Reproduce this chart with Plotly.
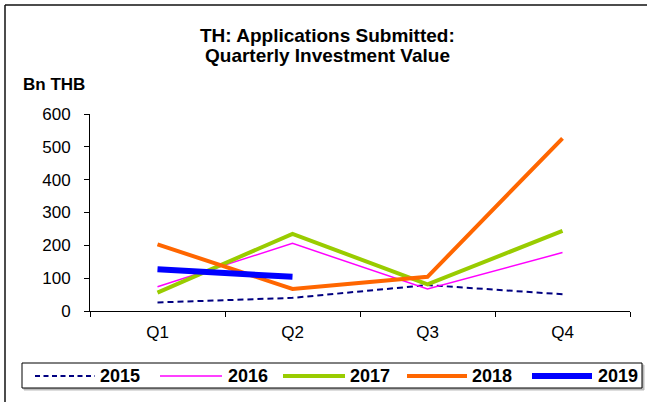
import plotly.graph_objects as go

quarters = ["Q1", "Q2", "Q3", "Q4"]
y2015 = [26, 40, 79, 51]
y2016 = [74, 206, 67, 178]
y2017 = [56, 235, 81, 244]
y2018 = [203, 67, 104, 526]
y2019 = [127, 104]
years = ["2015", "2016", "2017", "2018", "2019"]

styles = [
    dict(color="#000080", width=2, dash="6px,4px"),
    dict(color="#FF00FF", width=1.5),
    dict(color="#99CC00", width=4),
    dict(color="#FF6600", width=4),
    dict(color="#0000FF", width=6),
]
values = [y2015, y2016, y2017, y2018, y2019]

FONT = "Liberation Sans, Arial, sans-serif"
W, H = 647, 402
L, R, T, B = 90, 630, 114, 311

def px(x):
    return (x - L) / (R - L)

def py(y):
    return (B - y) / (B - T)

fig = go.Figure()
for name, vals, line in zip(years, values, styles):
    fig.add_trace(go.Scatter(x=quarters[:len(vals)], y=vals, name=name, mode="lines",
                             line=line, showlegend=False))

fig.update_layout(
    width=W, height=H,
    margin=dict(l=L, r=W - R, t=T, b=H - B, autoexpand=False),
    paper_bgcolor="white", plot_bgcolor="white",
    font=dict(family=FONT, size=17, color="black"),
    showlegend=False,
    xaxis=dict(type="category", range=[-0.5, 3.5], showline=True, linecolor="black", linewidth=1,
               ticks="outside", ticklen=5, tickcolor="black", tickson="boundaries",
               showgrid=False, zeroline=False, ticklabelstandoff=6,
               tickfont=dict(size=17, family=FONT), fixedrange=True),
    yaxis=dict(range=[0, 600], dtick=100, showline=True, linecolor="black", linewidth=1,
               ticks="outside", ticklen=5, tickcolor="black", showgrid=False, zeroline=False,
               ticklabelstandoff=10, tickfont=dict(size=17, family=FONT), fixedrange=True),
)

# title (two lines)
fig.add_annotation(text="<b>TH: Applications Submitted:</b>", xref="paper", yref="paper",
                   x=px(327), y=py(36), xanchor="center", yanchor="middle", showarrow=False,
                   font=dict(size=19, family=FONT))
fig.add_annotation(text="<b>Quarterly Investment Value</b>", xref="paper", yref="paper",
                   x=px(327), y=py(55), xanchor="center", yanchor="middle", showarrow=False,
                   font=dict(size=19, family=FONT))
# unit label
fig.add_annotation(text="<b>Bn THB</b>", xref="paper", yref="paper", x=px(21), y=py(85),
                   xanchor="left", yanchor="middle", showarrow=False, font=dict(size=17, family=FONT))

# outer frame (left and top edges)
fig.add_shape(type="line", xref="paper", yref="paper", x0=px(5), y0=py(5), x1=px(647), y1=py(5),
              line=dict(color="#111111", width=1.5))
fig.add_shape(type="line", xref="paper", yref="paper", x0=px(5), y0=py(5), x1=px(5), y1=py(402),
              line=dict(color="#111111", width=1.5))
# legend box shadow and box
fig.add_shape(type="rect", xref="paper", yref="paper", x0=px(24), y0=py(365), x1=px(644), y1=py(390),
              line=dict(color="#BBBBBB", width=1), fillcolor="#BBBBBB", layer="below")
fig.add_shape(type="rect", xref="paper", yref="paper", x0=px(22), y0=py(363), x1=px(642), y1=py(388),
              line=dict(color="black", width=1), fillcolor="white", layer="below")

# legend entries
leg_line_x = [(35, 95), (160, 222), (283, 345), (407, 467), (532, 592)]
leg_text_x = [100, 228, 350, 472, 598]
leg_y = 376
for name, line, (x0, x1), tx in zip(years, styles, leg_line_x, leg_text_x):
    lstyle = dict(line)
    if "dash" in lstyle:
        lstyle["dash"] = "5px,3.5px"
    fig.add_shape(type="line", xref="paper", yref="paper", x0=px(x0), y0=py(leg_y), x1=px(x1),
                  y1=py(leg_y), line=lstyle)
    fig.add_annotation(text="<b>" + name + "</b>", xref="paper", yref="paper", x=px(tx - 2),
                       y=py(leg_y), xanchor="left", yanchor="middle", showarrow=False,
                       font=dict(size=18, family=FONT))

fig.write_html("out.html", config={"displayModeBar": False},
               post_script="document.body.style.margin='0';")
